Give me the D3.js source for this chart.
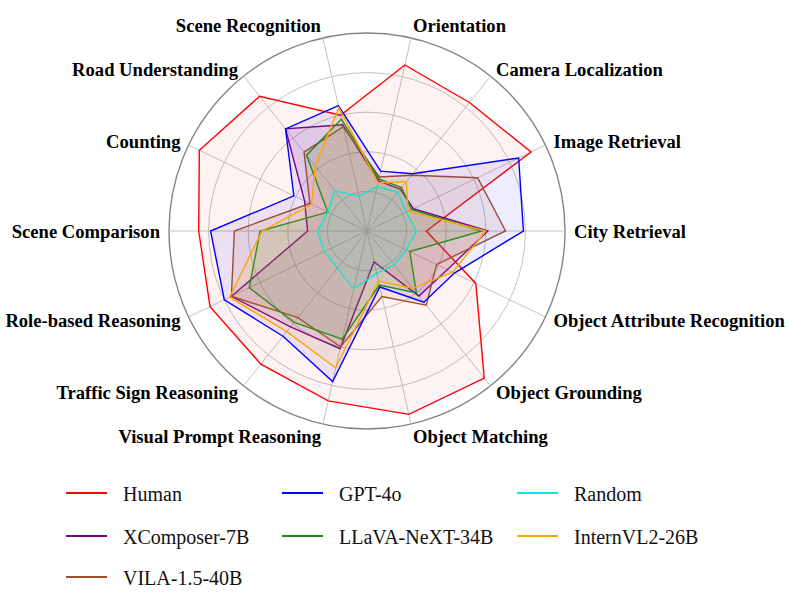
<!DOCTYPE html>
<html>
<head>
<meta charset="utf-8">
<script src="https://cdn.jsdelivr.net/npm/d3@7"></script>
<style>
  body { margin: 0; background: #fff; }
  svg { display: block; }
</style>
</head>
<body>
<div id="chart"></div>
<script>
// axes, counter-clockwise starting at 3 o'clock
var categories = ["City Retrieval", "Image Retrieval", "Camera Localization", "Orientation",
    "Scene Recognition", "Road Understanding", "Counting", "Scene Comparison",
    "Role-based Reasoning", "Traffic Sign Reasoning", "Visual Prompt Reasoning",
    "Object Matching", "Object Grounding", "Object Attribute Recognition"];

var human     = [30, 92, 83, 86, 60, 87, 94, 85, 88, 86, 88, 95, 95, 61];
var xcomposer = [61, 26, 27, 26, 55, 66, 35, 30, 76, 62, 61, 16, 42, 45];
var vila      = [70, 62, 36, 28, 54, 51, 32, 67, 76, 56, 60, 34, 48, 39];
var gpt4o     = [79, 85, 37, 31, 65, 66, 41, 79, 80, 68, 78, 29, 46, 49];
var llava     = [58, 25, 28, 27, 58, 49, 22, 54, 66, 59, 56, 28, 40, 24];
var random    = [25, 22, 25, 23, 18, 26, 22, 25, 24, 24, 30, 22, 22, 22];
var internvl  = [60, 23, 32, 25, 64, 42, 31, 53, 77, 65, 71, 26, 37, 48];

var seriesNames  = ["Human", "XComposer-7B", "VILA-1.5-40B", "GPT-4o", "LLaVA-NeXT-34B", "Random", "InternVL2-26B"];
var seriesValues = [human, xcomposer, vila, gpt4o, llava, random, internvl];
var seriesColors = ["#ff0000", "#800080", "#a0522d", "#0000ff", "#1a8a1a", "#00e8e8", "#ffa500"];
var seriesAlpha  = [0.05, 0.1, 0.1, 0.07, 0.1, 0.1, 0.1];

var ringTicks = [20, 40, 60, 80, 100];

var width = 790, height = 593;
var cx = 367, cy = 231, R = 198;
var step = 2 * Math.PI / categories.length;

var svg = d3.select("#chart").append("svg")
            .attr("width", width)
            .attr("height", height);

svg.append("rect").attr("width", width).attr("height", height).attr("fill", "#fff");

var r = d3.scaleLinear().domain([0, 100]).range([0, R]);

var g = svg.append("g").attr("transform", "translate(" + cx + "," + cy + ")");

// grid rings
g.selectAll(".ring")
 .data(ringTicks)
 .enter().append("circle")
 .attr("class", "ring")
 .attr("r", function(d) { return r(d); })
 .attr("fill", "none")
 .attr("stroke", function(d) { return d === 100 ? "#858585" : "#c4c4c4"; })
 .attr("stroke-width", function(d) { return d === 100 ? 1.4 : 1; });

// spokes
g.selectAll(".spoke")
 .data(categories)
 .enter().append("line")
 .attr("class", "spoke")
 .attr("x1", 0).attr("y1", 0)
 .attr("x2", function(d, i) { return r(100) * Math.cos(i * step); })
 .attr("y2", function(d, i) { return -r(100) * Math.sin(i * step); })
 .attr("stroke", "#c4c4c4")
 .attr("stroke-width", 1);

// series polygons
var radar = d3.lineRadial()
              .angle(function(d, i) { return Math.PI / 2 - i * step; })
              .radius(function(d) { return r(d); })
              .curve(d3.curveLinearClosed);

var series = g.selectAll(".series")
              .data(seriesValues)
              .enter().append("g")
              .attr("class", "series");

series.append("path")
      .attr("d", function(d) { return radar(d); })
      .attr("fill", function(d, i) { return seriesColors[i]; })
      .attr("fill-opacity", function(d, i) { return seriesAlpha[i]; })
      .attr("stroke", "none");

series.append("path")
      .attr("d", function(d) { return radar(d); })
      .attr("fill", "none")
      .attr("stroke", function(d, i) { return seriesColors[i]; })
      .attr("stroke-width", 1.4)
      .attr("stroke-linejoin", "miter");

// axis labels
var labelR = 207;
g.selectAll(".label")
 .data(categories)
 .enter().append("text")
 .attr("class", "label")
 .attr("x", function(d, i) { return labelR * Math.cos(i * step); })
 .attr("y", function(d, i) {
     var s = Math.sin(i * step);
     var shift = Math.abs(s) > 0.9 ? -3.5 * Math.sign(s) : 0;
     return -labelR * s + shift;
 })
 .attr("text-anchor", function(d, i) {
     var c = Math.cos(i * step);
     return c > 0.05 ? "start" : (c < -0.05 ? "end" : "middle");
 })
 .attr("dominant-baseline", "central")
 .style("font-family", "'Liberation Serif', 'Times New Roman', serif")
 .style("font-weight", "bold")
 .style("font-size", "18.6px")
 .attr("fill", "#000")
 .text(function(d) { return d; });

// legend, filled column by column (3 / 2 / 2)
var colSizes = [3, 2, 2];
var colX = [66, 282, 517];
var rowY = [493, 536, 577];
var legendPos = [];
colSizes.forEach(function(n, c) {
    for (var k = 0; k < n; k++) legendPos.push({ col: c, row: k });
});

var legend = svg.selectAll(".legend")
                .data(seriesNames)
                .enter().append("g")
                .attr("class", "legend")
                .attr("transform", function(d, i) {
                    return "translate(" + colX[legendPos[i].col] + "," + rowY[legendPos[i].row] + ")";
                });

legend.append("line")
      .attr("x1", 0).attr("x2", 41)
      .attr("y1", 0).attr("y2", 0)
      .attr("stroke", function(d, i) { return seriesColors[i]; })
      .attr("stroke-width", 2);

legend.append("text")
      .attr("x", 57)
      .attr("y", 1)
      .attr("dominant-baseline", "central")
      .style("font-family", "'Liberation Serif', 'Times New Roman', serif")
      .style("font-size", "20px")
      .attr("fill", "#111")
      .text(function(d) { return d; });
</script>
</body>
</html>
